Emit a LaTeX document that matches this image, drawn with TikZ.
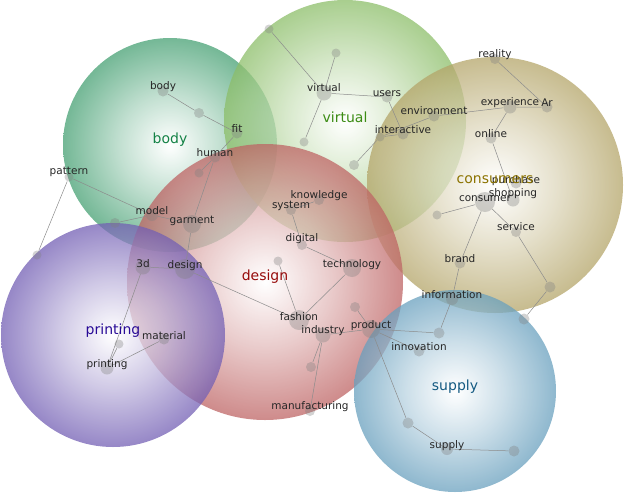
\documentclass[tikz,border=0pt]{standalone}
\usepackage{fontspec}
\setmainfont{DejaVu Sans}
\definecolor{cbody}{RGB}{70,160,115}
\definecolor{cvirt}{RGB}{140,190,105}
\definecolor{ccons}{RGB}{180,165,105}
\definecolor{cdes}{RGB}{190,100,100}
\definecolor{cprint}{RGB}{115,95,180}
\definecolor{csup}{RGB}{105,160,190}
\pgfdeclareradialshading{sbody}{\pgfpoint{0bp}{0bp}}{color(0bp)=(white);color(12bp)=(cbody!45);color(25bp)=(cbody);color(50bp)=(cbody)}
\pgfdeclareradialshading{svirt}{\pgfpoint{0bp}{0bp}}{color(0bp)=(white);color(12bp)=(cvirt!45);color(25bp)=(cvirt);color(50bp)=(cvirt)}
\pgfdeclareradialshading{scons}{\pgfpoint{0bp}{0bp}}{color(0bp)=(white);color(12bp)=(ccons!45);color(25bp)=(ccons);color(50bp)=(ccons)}
\pgfdeclareradialshading{sdes}{\pgfpoint{0bp}{0bp}}{color(0bp)=(white);color(12bp)=(cdes!45);color(25bp)=(cdes);color(50bp)=(cdes)}
\pgfdeclareradialshading{sprint}{\pgfpoint{0bp}{0bp}}{color(0bp)=(white);color(12bp)=(cprint!45);color(25bp)=(cprint);color(50bp)=(cprint)}
\pgfdeclareradialshading{ssup}{\pgfpoint{0bp}{0bp}}{color(0bp)=(white);color(12bp)=(csup!45);color(25bp)=(csup);color(50bp)=(csup)}
\tikzset{
 clus/.style={fill opacity=0.75},
 dot/.style={circle,fill=black!50,fill opacity=0.35,inner sep=0pt,minimum size=#1},
 dot/.default=10pt,
 lab/.style={font=\fontsize{10.5}{11}\selectfont,text=black!85,inner sep=0pt},
 clab/.style={font=\fontsize{14}{15}\selectfont,inner sep=0pt},
 edge/.style={draw=black!45,line width=0.5pt}
}
\begin{document}
\begin{tikzpicture}[x=1pt,y=-1pt]
\useasboundingbox (0,0) rectangle (624,493);
% clusters
\shade[clus,shading=sbody] (170,145) circle (107);
\shade[clus,shading=svirt] (345,121) circle (121);
\shade[clus,shading=scons] (495,185) circle (128);
\shade[clus,shading=sdes] (265,282) circle (138);
\shade[clus,shading=sprint] (113,335) circle (112);
\shade[clus,shading=ssup] (455,391) circle (101);
% dots
\node[dot=9pt] (a1) at (269,29) {};
\node[dot=9pt] (a2) at (336,53) {};
\node[dot=15pt] (virt) at (324,93) {};
\node[dot=11pt] (users) at (387,97) {};
\node[dot=11pt] (env) at (434,116) {};
\node[dot=11pt] (inter) at (403,134) {};
\node[dot=9pt] (i1) at (380,137) {};
\node[dot=9pt] (a3) at (304,142) {};
\node[dot=10pt] (a4) at (354,165) {};
\node[dot=10pt] (real) at (495,59) {};
\node[dot=13pt] (exp) at (510,107) {};
\node[dot=11pt] (ar) at (547,107) {};
\node[dot=11pt] (online) at (491,138) {};
\node[dot=11pt] (purch) at (516,183) {};
\node[dot=13pt] (shop) at (513,200) {};
\node[dot=20pt] (cons) at (485,202) {};
\node[dot=9pt] (a5) at (437,215) {};
\node[dot=10pt] (serv) at (516,232) {};
\node[dot=10pt] (know) at (319,200) {};
\node[dot=10pt] (sys) at (291,210) {};
\node[dot=10pt] (dig) at (302,245) {};
\node[dot=11pt] (bodyn) at (163,91) {};
\node[dot=10pt] (a6) at (199,113) {};
\node[dot=11pt] (fit) at (237,133) {};
\node[dot=11pt] (hum) at (215,157) {};
\node[dot=9pt] (a7) at (199,173) {};
\node[dot=9pt] (patt) at (69,177) {};
\node[dot=9pt] (a8) at (37,255) {};
\node[dot=12pt] (model) at (152,215) {};
\node[dot=10pt] (a9) at (115,223) {};
\node[dot=18pt] (garm) at (192,224) {};
\node[dot=15pt] (d3) at (143,267) {};
\node[dot=20pt] (desn) at (185,269) {};
\node[dot=9pt] (a10) at (278,261) {};
\node[dot=18pt] (tech) at (352,268) {};
\node[dot=11pt] (brand) at (460,263) {};
\node[dot=11pt] (a11) at (550,287) {};
\node[dot=12pt] (info) at (452,299) {};
\node[dot=11pt] (a12) at (524,319) {};
\node[dot=10pt] (a13) at (355,307) {};
\node[dot=20pt] (fash) at (299,320) {};
\node[dot=15pt] (ind) at (323,335) {};
\node[dot=18pt] (prod) at (371,329) {};
\node[dot=11pt] (a14) at (439,333) {};
\node[dot=11pt] (innov) at (419,351) {};
\node[dot=11pt] (mat) at (164,339) {};
\node[dot=9pt] (a15) at (119,344) {};
\node[dot=13pt] (printn) at (107,368) {};
\node[dot=10pt] (a16) at (311,367) {};
\node[dot=10pt] (manu) at (310,411) {};
\node[dot=11pt] (a17) at (408,423) {};
\node[dot=12pt] (supn) at (447,449) {};
\node[dot=11pt] (a18) at (514,451) {};
% edges
\path[edge] (a1)--(virt) (virt)--(a2) (virt)--(users) (virt)--(a3)
 (users)--(inter) (a4)--(i1) (i1)--(inter) (i1)--(env) (env)--(exp)
 (real)--(ar) (exp)--(ar) (exp)--(online) (online)--(shop)
 (cons)--(a5) (cons)--(brand) (cons)--(serv) (serv)--(a11) (a11)--(a12)
 (brand)--(info) (info)--(a14) (prod)--(a14) (prod)--(innov) (prod)--(a13)
 (prod)--(a17) (a17)--(supn) (supn)--(a18) (ind)--(prod) (ind)--(a16)
 (ind)--(manu) (fash)--(tech) (fash)--(a10) (fash)--(desn) (desn)--(d3)
 (d3)--(printn) (printn)--(a15) (printn)--(mat) (desn)--(garm) (garm)--(hum)
 (hum)--(fit) (hum)--(a7) (fit)--(a6) (a6)--(bodyn) (patt)--(model)
 (model)--(garm) (model)--(a9) (patt)--(a8) (tech)--(dig) (dig)--(sys) (sys)--(know);
% labels
\node[lab] at (324,88) {virtual};
\node[lab] at (387,94) {users};
\node[lab] at (434,111) {environment};
\node[lab] at (403,130) {interactive};
\node[lab] at (495,55) {reality};
\node[lab] at (510,103) {experience};
\node[lab] at (547,103) {Ar};
\node[lab] at (491,134) {online};
\node[lab] at (516,181) {purchase};
\node[lab] at (513,194) {shopping};
\node[lab] at (485,199) {consumer};
\node[lab] at (516,227) {service};
\node[lab] at (319,196) {knowledge};
\node[lab] at (291,206) {system};
\node[lab] at (302,239) {digital};
\node[lab] at (163,87) {body};
\node[lab] at (237,129) {fit};
\node[lab] at (215,153) {human};
\node[lab] at (69,172) {pattern};
\node[lab] at (152,211) {model};
\node[lab] at (192,221) {garment};
\node[lab] at (143,264) {3d};
\node[lab] at (185,266) {design};
\node[lab] at (352,265) {technology};
\node[lab] at (460,259) {brand};
\node[lab] at (452,295) {information};
\node[lab] at (299,317) {fashion};
\node[lab] at (323,331) {industry};
\node[lab] at (371,326) {product};
\node[lab] at (419,347) {innovation};
\node[lab] at (164,336) {material};
\node[lab] at (107,365) {printing};
\node[lab] at (310,407) {manufacturing};
\node[lab] at (447,446) {supply};
% cluster labels
\node[clab,text={rgb,255:red,20;green,130;blue,70}] at (170,140) {body};
\node[clab,text={rgb,255:red,60;green,140;blue,20}] at (345,117) {virtual};
\node[clab,text={rgb,255:red,140;green,115;blue,0}] at (495,180) {consumers};
\node[clab,text={rgb,255:red,150;green,10;blue,10}] at (265,277) {design};
\node[clab,text={rgb,255:red,40;green,10;blue,150}] at (113,331) {printing};
\node[clab,text={rgb,255:red,20;green,90;blue,130}] at (455,387) {supply};
\end{tikzpicture}
\end{document}
